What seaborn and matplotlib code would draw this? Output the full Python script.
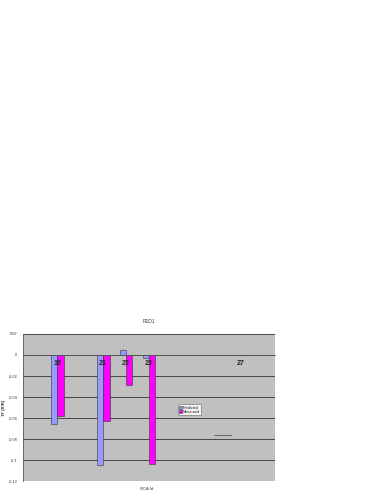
import matplotlib
matplotlib.use("Agg")
import matplotlib.pyplot as plt
import seaborn as sns
import numpy as np
import pandas as pd

# RCA ids shown on the category axis
rca_ids = ['18', '19', '20', '21', '22', '23', '24', '25', '26', '27', '28']
predicted = [np.nan, -0.066, np.nan, -0.105, 0.005, -0.003, np.nan, np.nan, np.nan, 0.0, np.nan]
measured = [np.nan, -0.058, np.nan, -0.0625, -0.029, -0.104, np.nan, np.nan, np.nan, 0.0, np.nan]
label_ids = ['19', '21', '22', '23', '27']
yticks = [0.02, 0, -0.02, -0.04, -0.06, -0.08, -0.1, -0.12]
ytick_labels = ['0.02', '0', '-0.02', '-0.04', '-0.06', '-0.08', '-0.1', '-0.12']

df = pd.DataFrame({
    'RCA Id': rca_ids * 2,
    'TF': predicted + measured,
    'series': ['Predicted'] * len(rca_ids) + ['Measured'] * len(rca_ids),
})

sns.set_style('white')
plt.rcParams['font.family'] = ['Arial', 'Liberation Sans', 'DejaVu Sans']

fig = plt.figure(figsize=(3.82, 4.94), dpi=100)
ax = fig.add_axes([0.060, 0.026, 0.660, 0.298])
ax.set_facecolor('#C0C0C0')

sns.barplot(data=df, x='RCA Id', y='TF', hue='series', order=rca_ids,
            hue_order=['Predicted', 'Measured'],
            palette={'Predicted': '#9999FF', 'Measured': '#FF00FF'},
            saturation=1, width=0.56, edgecolor='#333333', linewidth=0.4,
            ax=ax, legend=True)

ax.set_ylim(-0.12, 0.02)
ax.set_xlim(-0.5, len(rca_ids) - 0.5)
ax.set_yticks(yticks)
ax.set_yticklabels(ytick_labels)
ax.yaxis.grid(True, color='#333333', linewidth=0.6)
ax.set_axisbelow(True)

# category axis crossing at zero
ax.spines['bottom'].set_position(('data', 0))
ax.spines['bottom'].set_color('#555555')
ax.spines['bottom'].set_linewidth(0.6)
ax.spines['top'].set_visible(False)
ax.spines['right'].set_visible(False)
ax.spines['left'].set_color('#555555')
ax.spines['left'].set_linewidth(0.6)
ax.set_xticks(np.arange(len(rca_ids) + 1) - 0.5)
ax.set_xticklabels([])
ax.tick_params(axis='x', direction='inout', length=2.5, width=0.4, color='#555555')
ax.tick_params(axis='y', direction='out', length=2, width=0.4, labelsize=2.8,
               color='#555555', labelcolor='#333333', pad=2)

for rid in label_ids:
    ax.text(rca_ids.index(rid), -0.008, rid, ha='center', va='center',
            fontsize=5, fontweight='bold', color='#222222')

ax.set_title('R1D1', fontsize=3.5, color='#333333', pad=8)
ax.set_xlabel('RCA Id', fontsize=3, color='#333333')
ax.xaxis.set_label_coords(0.49, -0.04)
ax.set_ylabel('TF (R/R)', fontsize=3, color='#333333', fontweight='bold')
ax.yaxis.set_label_coords(-0.066, 0.5)

leg = ax.legend(loc='upper left', bbox_to_anchor=(0.607, 0.535), fontsize=2.8,
                frameon=True, fancybox=False, handlelength=0.8, handleheight=0.8,
                handletextpad=0.2, borderpad=0.3, labelspacing=0.2)
leg.get_frame().set_edgecolor('#666666')
leg.get_frame().set_linewidth(0.5)
leg.get_frame().set_facecolor('white')

# small stray line drawn on the chart
ax.plot([0.756, 0.825], [0.312, 0.312], transform=ax.transAxes,
        color='#555555', linewidth=0.6)

fig.savefig('out.png', dpi=100, facecolor='white')
